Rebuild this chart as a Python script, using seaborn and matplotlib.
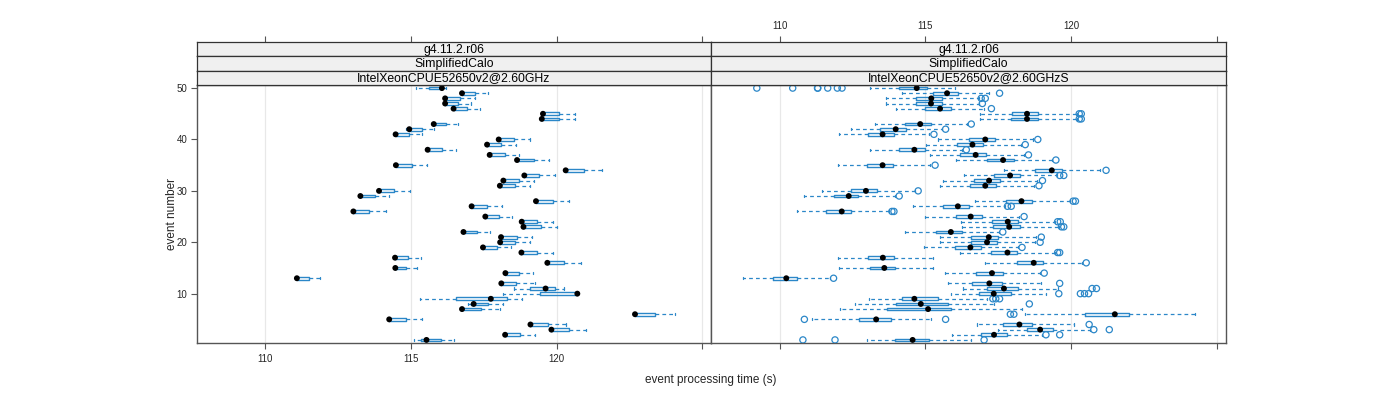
import numpy as np
import pandas as pd
import matplotlib
matplotlib.use("Agg")
import matplotlib.pyplot as plt
import seaborn as sns

# ---------------- data ----------------
events = list(range(1, 51))
tick_values = [110, 115, 120, 125]
tick_labels_top = ["110", "115", "120", ""]
tick_labels_bottom = ["110", "115", "120", ""]
y_ticks = [10, 20, 30, 40, 50]
strip_top = ["g4.11.2.r06", "g4.11.2.r06"]
strip_mid = ["SimplifiedCalo", "SimplifiedCalo"]
strip_bot = ["IntelXeonCPUE52650v2@2.60GHz", "IntelXeonCPUE52650v2@2.60GHzS"]

# left panel (events 1..50)
left_lo = [115.09, 118.23, 119.82, 119.10, 114.25, 122.69, 116.75, 116.97, 115.30, 118.16,
           118.54, 118.10, 111.08, 118.24, 114.46, 119.68, 114.45, 118.79, 117.47, 118.06,
           118.09, 116.80, 118.86, 118.80, 117.55, 113.02, 117.08, 119.29, 113.26, 113.90,
           118.05, 118.17, 118.89, 120.31, 114.48, 118.64, 117.70, 115.57, 117.61, 118.01,
           114.47, 114.83, 115.78, 119.49, 119.53, 116.46, 116.17, 116.17, 116.75, 115.17]
left_q1 = [115.33, 118.23, 119.82, 119.10, 114.25, 122.69, 116.75, 117.07, 116.53, 119.44,
           119.09, 118.10, 111.08, 118.24, 114.46, 119.68, 114.45, 118.79, 117.47, 118.06,
           118.09, 116.80, 118.86, 118.80, 117.55, 113.02, 117.08, 119.29, 113.26, 113.90,
           118.05, 118.17, 118.89, 120.31, 114.48, 118.64, 117.70, 115.57, 117.61, 118.01,
           114.47, 114.94, 115.78, 119.49, 119.53, 116.46, 116.17, 116.17, 116.75, 115.61]
left_med = [115.53, 118.23, 119.82, 119.10, 114.25, 122.69, 116.75, 117.15, 117.74, 120.71,
            119.62, 118.10, 111.08, 118.24, 114.46, 119.68, 114.45, 118.79, 117.47, 118.06,
            118.09, 116.80, 118.86, 118.80, 117.55, 113.02, 117.08, 119.29, 113.26, 113.90,
            118.05, 118.17, 118.89, 120.31, 114.48, 118.64, 117.70, 115.57, 117.61, 118.01,
            114.47, 114.94, 115.78, 119.49, 119.53, 116.46, 116.17, 116.17, 116.75, 116.06]
left_q3 = [116.02, 118.74, 120.44, 119.71, 114.82, 123.38, 117.40, 117.64, 118.28, 120.71,
           119.95, 118.62, 111.48, 118.72, 114.84, 120.26, 114.89, 119.32, 117.95, 118.57,
           118.63, 117.25, 119.45, 119.33, 118.03, 113.57, 117.61, 119.86, 113.77, 114.43,
           118.57, 118.69, 119.41, 120.93, 115.02, 119.21, 118.22, 116.06, 118.10, 118.54,
           114.93, 115.37, 116.21, 120.07, 120.07, 116.93, 116.61, 116.68, 117.21, 116.06]
left_hi = [116.49, 119.24, 121.01, 120.32, 115.38, 124.08, 118.05, 118.16, 118.82, 120.71,
           120.26, 119.24, 111.89, 119.20, 115.20, 120.84, 115.34, 119.86, 118.44, 119.09,
           119.16, 117.70, 120.02, 119.86, 118.47, 114.15, 118.13, 120.43, 114.26, 114.95,
           119.09, 119.21, 119.95, 121.54, 115.54, 119.75, 118.72, 116.54, 118.59, 119.07,
           115.38, 115.78, 116.61, 120.64, 120.62, 117.37, 117.05, 117.21, 117.64, 116.21]

# right panel (events 1..50)
right_lo = [112.99, 115.91, 117.49, 116.78, 111.11, 118.42, 112.06, 112.59, 113.05, 115.87,
            116.29, 115.77, 108.73, 115.68, 112.02, 117.05, 112.00, 116.19, 114.94, 115.49,
            115.51, 114.29, 116.25, 116.23, 114.97, 110.59, 114.56, 116.71, 110.85, 111.45,
            115.51, 115.60, 116.31, 117.70, 111.99, 116.05, 115.14, 113.11, 115.03, 115.43,
            112.03, 112.46, 113.28, 116.88, 116.88, 113.99, 113.66, 113.66, 114.19, 113.11]
right_q1 = [113.97, 116.90, 118.48, 117.66, 112.73, 120.48, 113.68, 113.99, 114.19, 116.85,
            117.11, 116.59, 109.76, 116.73, 113.10, 118.14, 113.03, 117.25, 116.01, 116.56,
            116.56, 115.36, 117.31, 117.28, 116.06, 111.59, 115.59, 117.76, 111.86, 112.45,
            116.54, 116.66, 117.36, 118.75, 112.99, 117.11, 116.17, 114.09, 116.08, 116.48,
            113.02, 113.45, 114.31, 117.94, 117.97, 114.99, 114.69, 114.69, 115.26, 114.09]
right_med = [114.56, 117.35, 118.93, 118.22, 113.31, 121.49, 115.09, 114.84, 114.62, 117.34,
             117.69, 117.19, 110.23, 117.28, 113.59, 118.71, 113.54, 117.81, 116.54, 117.11,
             117.17, 115.87, 117.87, 117.82, 116.55, 112.13, 116.11, 118.29, 112.37, 112.96,
             117.05, 117.18, 117.90, 119.33, 113.53, 117.66, 116.72, 114.62, 116.61, 117.05,
             113.53, 113.98, 114.82, 118.48, 118.48, 115.50, 115.19, 115.20, 115.74, 114.70]
right_q3 = [115.11, 117.79, 119.37, 118.65, 113.82, 121.99, 115.86, 115.77, 115.43, 117.94,
            118.17, 117.62, 110.59, 117.65, 113.97, 119.03, 113.92, 118.15, 116.91, 117.46,
            117.50, 116.25, 118.25, 118.17, 116.94, 112.46, 116.48, 118.65, 112.70, 113.34,
            117.42, 117.54, 118.25, 119.67, 113.90, 118.03, 117.07, 115.00, 116.98, 117.39,
            113.91, 114.34, 115.20, 118.86, 118.86, 115.87, 115.58, 115.58, 116.11, 115.06]
right_hi = [116.56, 118.99, 120.65, 120.08, 115.20, 124.25, 118.31, 117.34, 117.11, 119.13,
            119.53, 118.97, 111.74, 118.94, 115.25, 120.37, 115.25, 119.45, 118.17, 118.74,
            118.79, 117.51, 119.57, 119.45, 118.19, 113.74, 117.74, 119.97, 113.97, 114.65,
            118.73, 118.82, 119.51, 120.99, 115.17, 119.34, 118.37, 116.25, 118.26, 118.69,
            115.13, 115.57, 116.42, 120.19, 120.19, 117.00, 116.85, 116.85, 117.17, 116.02]
right_out = [[110.80, 111.90, 117.01], [119.13, 119.60], [120.77, 121.30], [120.61],
             [110.85, 115.69], [117.91, 118.03], [], [118.56], [117.31, 117.41, 117.54],
             [119.57, 120.31, 120.45, 120.59], [120.71, 120.86], [119.60], [111.85], [119.07],
             [], [120.51], [], [119.53, 119.60], [118.31], [118.93], [118.97], [117.65],
             [119.66, 119.74], [119.53, 119.62], [118.38], [113.85, 113.92], [117.81, 117.94],
             [120.06, 120.14], [114.10], [114.75], [118.89], [119.01], [119.60, 119.74],
             [121.19], [115.33], [119.47], [118.53], [116.40], [118.42], [118.85], [115.29],
             [115.69], [116.57], [120.27, 120.34], [120.27, 120.34], [117.26], [116.95],
             [116.91, 117.05], [117.54],
             [109.22, 110.45, 111.30, 111.31, 111.65, 111.98, 112.14]]
left_out = [[] for _ in events]

# ---------------- style ----------------
sns.set_theme(style="white")
plt.rcParams['font.family'] = ['Liberation Sans', 'DejaVu Sans']

BLUE = '#2b87c8'
FRAME = '#555555'
W, H = 1400, 400
fig = plt.figure(figsize=(14, 4), dpi=100)


def fx(px):
    return px / W


def fy(py):
    return 1 - py / H


XLIM = (107.65, 125.3)
YLIM = (0.4, 50.6)
panels_px = [(197, 711), (711, 1226)]
data_top, data_bot = 85, 343
strip_px = [42, 56.33, 70.67, 85]

panel_data = [
    (left_lo, left_q1, left_med, left_q3, left_hi, left_out),
    (right_lo, right_q1, right_med, right_q3, right_hi, right_out),
]

for p, ((x0, x1), (lo, q1, med, q3, hi, outs)) in enumerate(zip(panels_px, panel_data)):
    ax = fig.add_axes([fx(x0), fy(data_bot), (x1 - x0) / W, (data_bot - data_top) / H])
    stats = [dict(med=m, q1=a, q3=b, whislo=l, whishi=h, fliers=[])
             for l, a, m, b, h in zip(lo, q1, med, q3, hi)]
    kw = dict(positions=events, widths=0.55, showfliers=False, manage_ticks=False,
              boxprops=dict(color=BLUE, lw=1.0),
              whiskerprops=dict(color=BLUE, lw=0.9, linestyle=(0, (3, 2.5))),
              capprops=dict(color=BLUE, lw=0.9),
              medianprops=dict(lw=0), capwidths=0.4)
    try:
        ax.bxp(stats, orientation='horizontal', **kw)
    except TypeError:
        ax.bxp(stats, vert=False, **kw)

    # outliers
    ox, oy = [], []
    for ev, ol in zip(events, outs):
        for v in ol:
            ox.append(v)
            oy.append(ev)
    if ox:
        sns.scatterplot(x=ox, y=oy, ax=ax, marker='o', s=20, facecolor='none',
                        edgecolor=BLUE, linewidth=0.9, legend=False, zorder=3)
    # medians
    sns.scatterplot(x=med, y=events, ax=ax, color='black', s=18, edgecolor='none',
                    legend=False, zorder=4)

    ax.set_xlim(*XLIM)
    ax.set_ylim(*YLIM)
    ax.set_xticks(tick_values)
    ax.grid(axis='x', color='#e8e8e8', lw=0.9)
    ax.grid(axis='y', visible=False)
    ax.set_axisbelow(True)
    ax.set_xlabel('')
    ax.set_ylabel('')
    for s in ax.spines.values():
        s.set_color(FRAME)
        s.set_linewidth(1.0)
    ax.tick_params(axis='both', direction='out', length=4, width=0.8, color=FRAME,
                   labelsize=7, pad=2)
    if p == 0:
        ax.set_xticklabels(tick_labels_bottom)
        ax.tick_params(axis='x', bottom=True, labelbottom=True, pad=4)
        ax.set_yticks(y_ticks)
        ax.tick_params(axis='y', left=True, labelleft=True, pad=3)
    else:
        ax.tick_params(axis='x', bottom=True, labelbottom=False)
        ax.set_yticks(y_ticks)
        ax.tick_params(axis='y', left=False, labelleft=False)

    # strips
    labels = [strip_top[p], strip_mid[p], strip_bot[p]]
    for k in range(3):
        ya, yb = strip_px[k], strip_px[k + 1]
        sax = fig.add_axes([fx(x0), fy(yb), (x1 - x0) / W, (yb - ya) / H])
        sax.set_facecolor('#f0f0f0')
        sax.set_xlim(*XLIM)
        sax.set_yticks([])
        for s in sax.spines.values():
            s.set_color('#333333')
            s.set_linewidth(0.9)
        sax.text(0.5, 0.45, labels[k], transform=sax.transAxes, ha='center',
                 va='center', fontsize=8.8, color='black')
        if k == 0:
            sax.set_xticks(tick_values)
            sax.tick_params(axis='x', top=True, bottom=False, labelbottom=False,
                            labeltop=(p == 1), direction='out', length=4, width=0.8,
                            color=FRAME, labelsize=7, pad=4)
            if p == 1:
                sax.set_xticklabels(tick_labels_top)
        else:
            sax.set_xticks([])

fig.text(fx(711), fy(380), 'event processing time (s)', ha='center', va='center',
         fontsize=8.5)
fig.text(fx(172), fy(214), 'event number', ha='center', va='center', rotation=90,
         fontsize=8.5)

fig.savefig('out.png', dpi=100)
